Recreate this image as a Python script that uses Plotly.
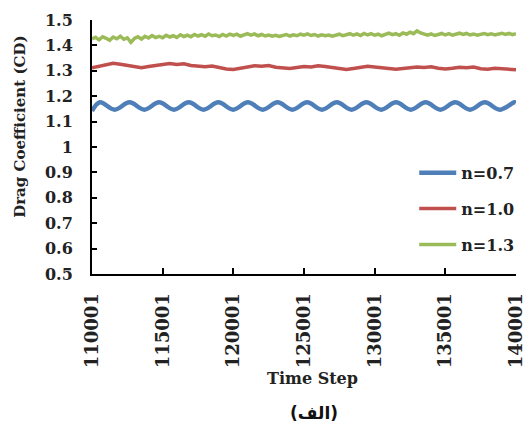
import plotly.graph_objects as go

# ---------------- data ----------------
x_ticks = [110001, 115001, 120001, 125001, 130001, 135001, 140001]
x_tick_labels = ["110001", "115001", "120001", "125001", "130001", "135001", "140001"]
y_ticks = [0.5, 0.6, 0.7, 0.8, 0.9, 1.0, 1.1, 1.2, 1.3, 1.4, 1.5]
y_tick_labels = ["0.5", "0.6", "0.7", "0.8", "0.9", "1", "1.1", "1.2", "1.3", "1.4", "1.5"]

series_names = ["n=0.7", "n=1.0", "n=1.3"]
series_colors = ["#4F7FB8", "#C0504D", "#9BBB59"]

# n=0.7 : regular oscillation, peaks and troughs
blue_steps = [110001, 110560, 111608, 112655, 113703, 114750, 115798, 116845, 117893,
              118940, 119988, 121035, 122083, 123130, 124178, 125225, 126273, 127320,
              128368, 129415, 130463, 131510, 132558, 133605, 134653, 135700, 136748,
              137795, 138843, 139890, 140001]
blue_cd = [1.142, 1.176, 1.147, 1.176, 1.147, 1.176, 1.147, 1.176, 1.147,
           1.176, 1.147, 1.176, 1.147, 1.176, 1.147, 1.176, 1.147, 1.176,
           1.147, 1.176, 1.147, 1.176, 1.147, 1.176, 1.147, 1.176, 1.147,
           1.176, 1.147, 1.176, 1.175]

# n=1.0 : sampled every 500 steps
red_steps = list(range(110001, 140002, 500))
red_cd = [1.312, 1.319, 1.325, 1.330, 1.326, 1.322, 1.315, 1.312, 1.317, 1.322,
          1.326, 1.329, 1.325, 1.328, 1.321, 1.318, 1.316, 1.319, 1.312, 1.307,
          1.305, 1.311, 1.316, 1.320, 1.318, 1.321, 1.314, 1.313, 1.309, 1.313,
          1.317, 1.315, 1.320, 1.317, 1.312, 1.308, 1.305, 1.309, 1.314, 1.318,
          1.315, 1.313, 1.308, 1.306, 1.309, 1.311, 1.315, 1.313, 1.316, 1.310,
          1.307, 1.310, 1.314, 1.312, 1.315, 1.308, 1.306, 1.310, 1.308, 1.305,
          1.304]

# n=1.3 : sampled every 250 steps
green_steps = list(range(110001, 140002, 250))
green_cd = [1.425, 1.432, 1.422, 1.434, 1.428, 1.420, 1.433, 1.426, 1.436, 1.424,
            1.430, 1.412, 1.427, 1.434, 1.425, 1.436, 1.429, 1.439, 1.431, 1.436,
            1.430, 1.440, 1.433, 1.438, 1.431, 1.442, 1.435, 1.440, 1.434, 1.443,
            1.437, 1.442, 1.436, 1.445, 1.438, 1.441, 1.435, 1.443, 1.437, 1.444,
            1.439, 1.444, 1.436, 1.441, 1.446, 1.440, 1.445, 1.438, 1.443, 1.437,
            1.441, 1.436, 1.440, 1.435, 1.439, 1.443, 1.437, 1.442, 1.438, 1.444,
            1.440, 1.445, 1.439, 1.443, 1.437, 1.442, 1.438, 1.441, 1.436, 1.440,
            1.444, 1.438, 1.442, 1.446, 1.440, 1.445, 1.439, 1.447, 1.441, 1.446,
            1.440, 1.444, 1.438, 1.443, 1.448, 1.442, 1.446, 1.440, 1.449, 1.444,
            1.452, 1.446, 1.457, 1.449, 1.444, 1.440, 1.445, 1.439, 1.443, 1.447,
            1.441, 1.446, 1.440, 1.444, 1.448, 1.443, 1.447, 1.441, 1.445, 1.440,
            1.444, 1.447, 1.442, 1.446, 1.441, 1.445, 1.448, 1.443, 1.447, 1.442,
            1.446]

# ---------------- figure ----------------
SERIF = "DejaVu Serif"
fig = go.Figure()
fig.add_trace(go.Scatter(x=blue_steps, y=blue_cd, mode="lines", name=series_names[0],
                         line=dict(color=series_colors[0], width=4.5, shape="spline", smoothing=1.0),
                         legendgroup="a"))
fig.add_trace(go.Scatter(x=red_steps, y=red_cd, mode="lines", name=series_names[1],
                         line=dict(color=series_colors[1], width=3.5), legendgroup="b"))
fig.add_trace(go.Scatter(x=green_steps, y=green_cd, mode="lines", name=series_names[2],
                         line=dict(color=series_colors[2], width=3.5), legendgroup="c"))

fig.update_layout(
    width=526, height=425,
    margin=dict(l=92, r=10, t=20, b=151, autoexpand=False),
    paper_bgcolor="white", plot_bgcolor="white",
    showlegend=True,
    legend=dict(x=0.76, y=0.465, xanchor="left", yanchor="top",
                font=dict(family=SERIF, size=16, color="#222", weight="bold"),
                bgcolor="rgba(0,0,0,0)", tracegroupgap=12, itemwidth=37),
    xaxis=dict(range=[110001, 140001], tickvals=x_ticks, ticktext=x_tick_labels,
               tickangle=-90, ticks="inside", ticklen=6, tickwidth=2, tickcolor="black",
               showline=True, linewidth=2, linecolor="black", showgrid=False, zeroline=False,
               tickfont=dict(family=SERIF, size=18, color="#222", weight="bold"),
               ticklabelstandoff=10, ticklabeloverflow="allow", automargin=False),
    yaxis=dict(range=[0.5, 1.5], tickvals=y_ticks, ticktext=y_tick_labels,
               ticks="inside", ticklen=5, tickwidth=2, tickcolor="black",
               showline=True, linewidth=2, linecolor="black", showgrid=False, zeroline=False,
               tickfont=dict(family=SERIF, size=16, color="#222", weight="bold"),
               ticklabelstandoff=14, ticklabeloverflow="allow", automargin=False),
    annotations=[
        dict(text="Drag Coefficient (CD)", xref="paper", yref="paper", x=-0.17, y=0.579,
             textangle=-90, showarrow=False, xanchor="center", yanchor="middle",
             font=dict(family=SERIF, size=15, color="#222", weight="bold")),
        dict(text="Time Step", xref="paper", yref="paper", x=0.521, y=-0.413,
             showarrow=False, xanchor="center", yanchor="middle",
             font=dict(family=SERIF, size=16, color="#222", weight="bold")),
        dict(text="(الف)", xref="paper", yref="paper", x=0.524, y=-0.547,
             showarrow=False, xanchor="center", yanchor="middle",
             font=dict(family="DejaVu Sans", size=17, color="#111", weight="bold")),
    ],
)

fig.write_html("out.html")
